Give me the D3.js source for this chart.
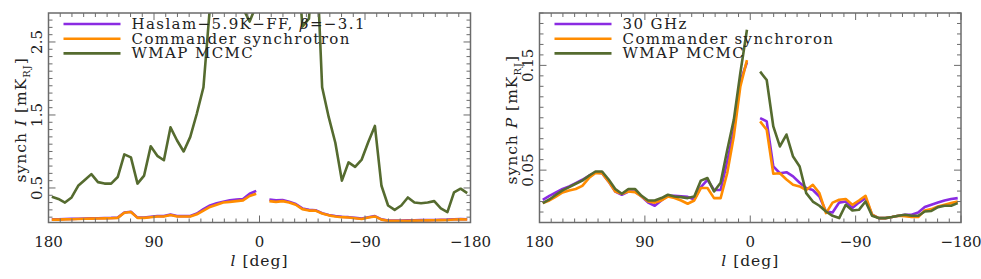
<!DOCTYPE html>
<html lang="en">
<head>
<meta charset="UTF-8">
<title>synchrotron profiles</title>
<script src="https://d3js.org/d3.v7.min.js"></script>
<style>
  body { margin: 0; background: #fff; }
  text { font-family: "DejaVu Serif", serif; fill: #222; }
  .tick-label { font-size: 15px; }
  .axis-title { font-size: 15.5px; letter-spacing: 1px; }
  .legend-label { font-size: 15px; letter-spacing: 1.4px; }
</style>
</head>
<body>
<div id="chart"></div>
<script>
// galactic longitude bin centres (deg)
const lon = [177.19, 171.56, 165.94, 160.31, 154.69, 149.06, 143.44, 137.81, 132.19, 126.56,
  120.94, 115.31, 109.69, 104.06, 98.44, 92.81, 87.19, 81.56, 75.94, 70.31,
  64.69, 59.06, 53.44, 47.81, 42.19, 36.56, 30.94, 25.31, 19.69, 14.06,
  8.44, 2.81, -2.81, -8.44, -14.06, -19.69, -25.31, -30.94, -36.56, -42.19,
  -47.81, -53.44, -59.06, -64.69, -70.31, -75.94, -81.56, -87.19, -92.81, -98.44,
  -104.06, -109.69, -115.31, -120.94, -126.56, -132.19, -137.81, -143.44, -149.06, -154.69,
  -160.31, -165.94, -171.56, -177.19];

// left panel: synch I [mK_RJ]
const haslamI = [0.07, 0.07, 0.074, 0.076, 0.078, 0.082, 0.084, 0.086, 0.088, 0.09,
  0.094, 0.165, 0.175, 0.094, 0.094, 0.105, 0.115, 0.115, 0.135, 0.115,
  0.115, 0.115, 0.15, 0.21, 0.26, 0.29, 0.31, 0.33, 0.34, 0.35,
  0.42, 0.46, null, 0.34, 0.33, 0.335, 0.31, 0.28, 0.22, 0.2,
  0.195, 0.155, 0.13, 0.115, 0.105, 0.1, 0.09, 0.08, 0.1, 0.115,
  0.07, 0.055, 0.055, 0.055, 0.056, 0.057, 0.059, 0.06, 0.062, 0.064,
  0.066, 0.072, 0.074, 0.072];
const commanderI = [0.066, 0.066, 0.07, 0.072, 0.075, 0.078, 0.08, 0.082, 0.084, 0.086,
  0.09, 0.16, 0.17, 0.09, 0.09, 0.1, 0.11, 0.11, 0.13, 0.11,
  0.11, 0.11, 0.14, 0.19, 0.24, 0.27, 0.3, 0.31, 0.32, 0.33,
  0.39, 0.42, null, 0.32, 0.31, 0.32, 0.3, 0.27, 0.21, 0.19,
  0.19, 0.15, 0.125, 0.11, 0.1, 0.095, 0.085, 0.075, 0.095, 0.11,
  0.066, 0.05, 0.05, 0.05, 0.052, 0.053, 0.055, 0.056, 0.058, 0.06,
  0.062, 0.068, 0.07, 0.068];
const wmapI = [0.38, 0.35, 0.3, 0.37, 0.53, 0.61, 0.69, 0.58, 0.56, 0.56,
  0.65, 0.96, 0.92, 0.56, 0.67, 1.07, 0.94, 0.88, 1.33, 1.15,
  1.0, 1.2, 1.52, 1.88, 3.0, 4.0, 4.5, 4.5, 4.0, 2.96,
  2.78, 3.0, null, 4.5, 5.0, 5.0, 4.5, 4.0, 2.71, 2.82,
  4.0, 1.88, 1.47, 1.12, 0.6, 0.85, 0.79, 0.89, 1.13, 1.35,
  0.53, 0.26, 0.2, 0.26, 0.37, 0.3, 0.29, 0.3, 0.32, 0.22,
  0.17, 0.44, 0.49, 0.43];

// right panel: synch P [mK_RJ]
const ghz30P = [0.0217, 0.0255, 0.0287, 0.032, 0.0344, 0.0376, 0.0408, 0.0446, 0.0478, 0.047,
  0.039, 0.0296, 0.0265, 0.0296, 0.0296, 0.0248, 0.019, 0.016, 0.021, 0.0255,
  0.0255, 0.025, 0.0245, 0.022, 0.0338, 0.0408, 0.031, 0.031, 0.058, 0.088,
  0.135, 0.153, null, 0.0997, 0.0965, 0.0535, 0.047, 0.048, 0.044, 0.038,
  0.0329, 0.031, 0.0248, 0.0105, 0.0096, 0.019, 0.02, 0.0138, 0.019, 0.0233,
  0.0074, 0.0042, 0.0042, 0.0052, 0.0064, 0.0074, 0.0074, 0.0096, 0.0147, 0.0169,
  0.019, 0.021, 0.0224, 0.0233];
const commanderP = [0.0185, 0.021, 0.0248, 0.0287, 0.0306, 0.032, 0.035, 0.0424, 0.0472, 0.047,
  0.039, 0.0296, 0.0274, 0.0296, 0.029, 0.0248, 0.02, 0.019, 0.021, 0.0248,
  0.0233, 0.021, 0.0179, 0.021, 0.0329, 0.0329, 0.0233, 0.0233, 0.047, 0.082,
  0.13, 0.155, null, 0.0965, 0.0885, 0.0465, 0.047, 0.041, 0.036, 0.0344,
  0.031, 0.036, 0.028, 0.009, 0.019, 0.0217, 0.0224, 0.0169, 0.021, 0.0255,
  0.0074, 0.0042, 0.0042, 0.0052, 0.0064, 0.006, 0.0052, 0.0052, 0.0115, 0.0128,
  0.0153, 0.0169, 0.0185, 0.02];
const wmapP = [0.0185, 0.022, 0.0265, 0.0306, 0.0338, 0.037, 0.04, 0.0446, 0.0487, 0.0487,
  0.041, 0.032, 0.0274, 0.032, 0.032, 0.0255, 0.021, 0.021, 0.0233, 0.0265,
  0.0248, 0.0242, 0.0233, 0.0248, 0.04, 0.0424, 0.0296, 0.038, 0.069, 0.098,
  0.143, 0.184, null, 0.144, 0.136, 0.0917, 0.0726, 0.084, 0.063, 0.0535,
  0.028, 0.02, 0.016, 0.0105, 0.0064, 0.0042, 0.0169, 0.0115, 0.0121, 0.02,
  0.0064, 0.0042, 0.0042, 0.0052, 0.0064, 0.0074, 0.0064, 0.0064, 0.0105, 0.011,
  0.0147, 0.016, 0.016, 0.0185];

const xTicks = [180, 90, 0, -90, -180];
const xTickLabels = ["180", "90", "0", "\u221290", "\u2212180"];
const leftTicks = [0.5, 1.5, 2.5];
const rightTicks = [0.05, 0.15];
const leftNames = ["Haslam\u22125.9K\u2212FF, ", "Commander synchrotron", "WMAP MCMC"];
const rightNames = ["30 GHz", "Commander synchroron", "WMAP MCMC"];
const colors = ["#8a2be2", "#ff8c00", "#556b2f"];

const W = 981, H = 279;
const svg = d3.select("#chart").append("svg")
    .attr("width", W).attr("height", H);

const axisColor = "#6b6b6b";

function panel(opts) {
  const x = d3.scaleLinear().domain([180, -180]).range([opts.x0, opts.x1]);
  const y = d3.scaleLinear().domain(opts.yDomain).range([222.5, 13]);
  const g = svg.append("g");

  // clip for the curves
  g.append("clipPath").attr("id", opts.id)
    .append("rect")
      .attr("x", opts.x0).attr("y", 13)
      .attr("width", opts.x1 - opts.x0).attr("height", 222.5 - 13);

  const line = d3.line()
    .defined(d => d[1] !== null)
    .x(d => x(d[0]))
    .y(d => y(d[1]));

  const curves = g.append("g").attr("clip-path", `url(#${opts.id})`);
  opts.series.forEach((s, i) => {
    curves.append("path")
      .datum(lon.map((l, j) => [l, s[j]]))
      .attr("d", line)
      .attr("fill", "none")
      .attr("stroke", colors[i])
      .attr("stroke-width", 2.6)
      .attr("stroke-linejoin", "round");
  });

  // ticks (inward, all four sides)
  const ticks = g.append("g").attr("stroke", axisColor).attr("stroke-width", 1);
  d3.range(-180, 181, 10).forEach(v => {
    const len = v % 90 === 0 ? 7 : 4;
    ticks.append("line").attr("x1", x(v)).attr("x2", x(v))
      .attr("y1", 222.5).attr("y2", 222.5 - len);
    ticks.append("line").attr("x1", x(v)).attr("x2", x(v))
      .attr("y1", 13).attr("y2", 13 + len);
  });
  const [ylo, yhi] = opts.yDomain;
  d3.range(Math.ceil(ylo / opts.minor), Math.floor(yhi / opts.minor) + 1).forEach(n => {
    const v = n * opts.minor;
    const major = opts.yTicks.some(t => Math.abs(t - v) < opts.minor / 2);
    const len = major ? 7 : 4;
    ticks.append("line").attr("y1", y(v)).attr("y2", y(v))
      .attr("x1", opts.x0).attr("x2", opts.x0 + len);
    ticks.append("line").attr("y1", y(v)).attr("y2", y(v))
      .attr("x1", opts.x1).attr("x2", opts.x1 - len);
  });

  g.append("rect")
    .attr("x", opts.x0).attr("y", 13)
    .attr("width", opts.x1 - opts.x0).attr("height", 222.5 - 13)
    .attr("fill", "none").attr("stroke", axisColor).attr("stroke-width", 1.5);

  // tick labels
  xTicks.forEach((v, i) => {
    g.append("text").attr("class", "tick-label")
      .attr("x", x(v)).attr("y", 247)
      .attr("text-anchor", "middle")
      .text(xTickLabels[i]);
  });
  opts.yTicks.forEach(v => {
    g.append("text").attr("class", "tick-label")
      .attr("transform", `translate(${opts.x0 - 7},${y(v)}) rotate(-90)`)
      .attr("text-anchor", "middle")
      .text(opts.fmt(v));
  });

  // axis titles
  const xt = g.append("text").attr("class", "axis-title")
    .attr("x", (opts.x0 + opts.x1) / 2).attr("y", 266)
    .attr("text-anchor", "middle");
  xt.append("tspan").style("font-style", "italic").text("l");
  xt.append("tspan").text(" [deg]");

  const yt = g.append("text").attr("class", "axis-title")
    .attr("transform", `translate(${opts.x0 - 23},${(13 + 222.5) / 2 + 2}) rotate(-90)`)
    .attr("text-anchor", "middle");
  yt.append("tspan").text("synch ");
  yt.append("tspan").style("font-style", "italic").text(opts.quantity);
  yt.append("tspan").text(" [mK");
  yt.append("tspan").attr("font-size", "10px").attr("dy", 4).text("RJ");
  yt.append("tspan").attr("dy", -4).text("]");

  // legend
  opts.names.forEach((name, i) => {
    const ly = 24 + i * 14.7;
    g.append("line")
      .attr("x1", opts.x0 + 15).attr("x2", opts.x0 + 72)
      .attr("y1", ly).attr("y2", ly)
      .attr("stroke", colors[i]).attr("stroke-width", 2.6);
    const t = g.append("text").attr("class", "legend-label")
      .attr("x", opts.x0 + 83).attr("y", ly + 5);
    t.append("tspan").text(name);
    if (opts.beta && i === 0) {
      t.append("tspan").style("font-style", "italic").text("\u03b2");
      t.append("tspan").text("=\u22123.1");
    }
  });
}

panel({
  id: "clipL", x0: 48.5, x1: 470.5,
  yDomain: [0.027, 2.897], minor: 0.1,
  yTicks: leftTicks, fmt: d3.format(".1f"),
  series: [haslamI, commanderI, wmapI],
  names: leftNames, beta: true, quantity: "I"
});

panel({
  id: "clipR", x0: 539.5, x1: 961,
  yDomain: [0, 0.2], minor: 0.01,
  yTicks: rightTicks, fmt: d3.format(".2f"),
  series: [ghz30P, commanderP, wmapP],
  names: rightNames, beta: false, quantity: "P"
});
</script>
</body>
</html>
